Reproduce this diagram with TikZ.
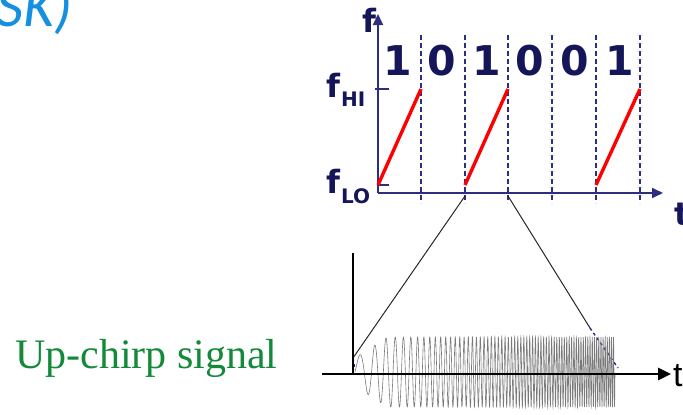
\documentclass[tikz,border=0pt]{standalone}
\usepackage{fontspec}
\setmainfont{Liberation Serif}
\newfontfamily\djv{DejaVu Sans}
\newfontfamily\carl{Carlito}
\newfontfamily\arl{Liberation Sans}
\usetikzlibrary{arrows.meta}
\definecolor{navy}{HTML}{2E2E80}
\definecolor{digitnavy}{HTML}{15155A}
\definecolor{titleblue}{HTML}{1590E0}
\definecolor{chirpgreen}{HTML}{138A3A}
\definecolor{chirpgray}{HTML}{7A7A7A}
\tikzset{
  axisline/.style={draw=navy, line width=1.8pt},
  slotline/.style={draw=navy, line width=1.3pt, dash pattern=on 5pt off 3pt},
  ramp/.style={draw=red, line width=3.4pt},
  bit/.style={anchor=base, text=digitnavy, font=\djv\bfseries\fontsize{41}{41}\selectfont, inner sep=0pt},
  flabel/.style={text=digitnavy, font=\djv\bfseries\fontsize{32}{32}\selectfont, inner sep=0pt},
  fsub/.style={text=digitnavy, font=\djv\bfseries\fontsize{20}{20}\selectfont, inner sep=0pt},
  zoomline/.style={draw=black!85, line width=1pt},
  bluedash/.style={draw=navy!80!blue, line width=1.4pt, dash pattern=on 3pt off 3pt},
}
\begin{document}
\begin{tikzpicture}[x=1pt,y=-1pt]
\useasboundingbox (0,0) rectangle (683,415);
\clip (0,0) rectangle (683,415);
% title fragment
\node[anchor=base east, text=titleblue, font=\carl\itshape\fontsize{60}{60}\selectfont, inner sep=0pt] (title) at (73,27) {SK)};
% upper plot coordinates
\coordinate (O) at (378,193);
\coordinate (ftop) at (378,14);
\coordinate (tend) at (663,193);
\coordinate (hi) at (378,89);
\coordinate (lo) at (378,185);
% dashed slot lines
\foreach \x/\n in {421/a,465/b,508/c,552/d,596/e,640/f}{
  \coordinate (s\n top) at (\x,35);
  \coordinate (s\n bot) at (\x,203);
  \draw[slotline] (s\n top) -- (s\n bot);
}
% axes
\draw[axisline, -{Triangle[length=11pt,width=10pt]}] (O) -- (tend);
\draw[axisline, -{Triangle[length=11pt,width=10pt]}] (O) -- (ftop);
\draw[axisline, line width=1.4pt] (375,89) -- (389,89);
\draw[axisline, line width=1.4pt] (lo) -- (389,185);
% ramps
\draw[ramp] (lo) -- (421,89);
\draw[ramp] (465,185) -- (508,89);
\draw[ramp] (596,185) -- (640,89);
% bits
\node[bit] (b1) at (398,75) {1};
\node[bit] (b2) at (442,75) {0};
\node[bit] (b3) at (487,75) {1};
\node[bit] (b4) at (530,75) {0};
\node[bit] (b5) at (575,75) {0};
\node[bit] (b6) at (620,75) {1};
% labels
\node[flabel, anchor=base west] (fax) at (362,32) {f};
\node[flabel, anchor=base west] (fhi) at (326,97) {f};
\node[fsub, anchor=base west] (fhis) at (341,106) {HI};
\node[flabel, anchor=base west] (flo) at (326,193) {f};
\node[fsub, anchor=base west] (flos) at (341,203) {LO};
\node[flabel, anchor=base west] (tax) at (674,225) {t};
% lower plot
\coordinate (L0) at (353,374);
\coordinate (Ltop) at (353,253);
\coordinate (Lstart) at (322,374);
\coordinate (Lend) at (671,374);
\coordinate (zl) at (353,358);
\coordinate (zr) at (590,328);
\coordinate (zre) at (618,368);
\draw[zoomline] (465,196) -- (zl);
\draw[zoomline] (508,196) -- (zr);
\draw[bluedash] (zr) -- (zre);
\draw[bluedash] (zl) -- (355,370);
\draw[chirpgray, line width=0.6pt] plot[domain=0:1, samples=2400, variable=\t]
  ({355+260*\t}, {372 - (14+21*min(1,\t*8))*sin(360*mod(12*\t+58*\t*\t,1))});
\draw[black, line width=1.2pt] (L0) -- (Ltop);
\draw[black, line width=2.6pt, -{Triangle[length=13pt,width=12pt]}] (Lstart) -- (Lend);
\node[anchor=base west, inner sep=0pt, font=\arl\fontsize{34}{34}\selectfont] (tlow) at (673,386) {t};
% caption
\node[anchor=base west, inner sep=0pt, text=chirpgreen, font=\fontsize{42}{42}\selectfont] (cap) at (15,368) {Up-chirp signal};
\end{tikzpicture}
\end{document}
